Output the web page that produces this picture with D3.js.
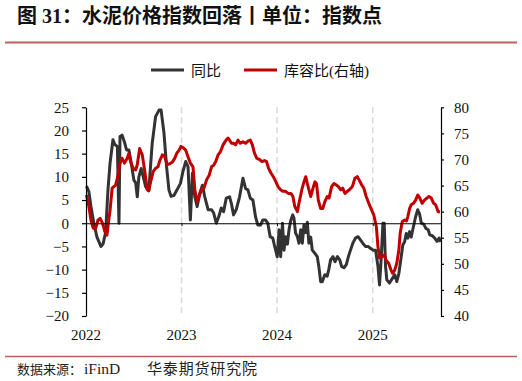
<!DOCTYPE html>
<html>
<head>
<meta charset="utf-8">
<script src="https://cdn.jsdelivr.net/npm/d3@7"></script>
<style>
  body { margin: 0; background: #fff; }
  svg { display: block; }
</style>
</head>
<body>
<svg id="chart" width="522" height="381"></svg>
<script>
// 同比 (left axis)
const yoyDates = ["2022-01-03","2022-01-12","2022-01-20","2022-01-31","2022-02-12","2022-02-27","2022-03-07","2022-03-17","2022-03-26","2022-04-03","2022-04-14","2022-04-21","2022-05-01","2022-05-07","2022-05-11","2022-05-19","2022-05-28","2022-06-05","2022-06-14","2022-06-23","2022-07-03","2022-07-10","2022-07-16","2022-07-22","2022-07-31","2022-08-08","2022-08-17","2022-08-29","2022-09-11","2022-09-24","2022-10-07","2022-10-15","2022-10-26","2022-11-05","2022-11-14","2022-11-22","2022-12-03","2022-12-15","2022-12-28",
  "2023-01-06","2023-01-17","2023-01-26","2023-02-04","2023-02-12","2023-02-21","2023-03-02","2023-03-12","2023-03-22","2023-03-31","2023-04-13","2023-04-26","2023-05-04","2023-05-14","2023-05-24","2023-06-02","2023-06-11","2023-06-21","2023-07-04","2023-07-11","2023-07-19","2023-07-29","2023-08-11","2023-08-24","2023-09-03","2023-09-12","2023-09-21","2023-10-01","2023-10-11","2023-10-20","2023-10-30","2023-11-08","2023-11-18","2023-11-27","2023-12-06","2023-12-16","2023-12-22","2023-12-27",
  "2024-01-02","2024-01-09","2024-01-15","2024-01-22","2024-01-28","2024-02-03","2024-02-10","2024-02-16","2024-02-23","2024-03-01","2024-03-06","2024-03-12","2024-03-19","2024-03-25","2024-04-01","2024-04-07","2024-04-13","2024-04-20","2024-04-26","2024-05-02","2024-05-09","2024-05-15","2024-05-25","2024-06-03","2024-06-09","2024-06-16","2024-06-22","2024-07-02","2024-07-11","2024-07-17","2024-07-24","2024-08-02","2024-08-10","2024-08-19","2024-08-28","2024-09-04","2024-09-13","2024-09-22","2024-09-30","2024-10-08","2024-10-17","2024-10-27","2024-11-06","2024-11-15","2024-11-24","2024-12-04","2024-12-14","2024-12-23",
  "2025-01-02","2025-01-12","2025-01-21","2025-01-27","2025-02-02","2025-02-09","2025-02-14","2025-02-19","2025-02-24","2025-03-06","2025-03-16","2025-03-26","2025-04-03","2025-04-11","2025-04-20","2025-04-26","2025-05-03","2025-05-09","2025-05-15","2025-05-22","2025-05-28","2025-06-03","2025-06-14","2025-06-22","2025-06-29","2025-07-06","2025-07-15","2025-07-23","2025-08-01","2025-08-07","2025-08-17","2025-08-26","2025-09-04","2025-09-12","2025-09-18"];
const yoyValues = [8,6.8,3.6,0,-3,-5,-4.5,-2,7.2,13,18,17,16.5,0,18.7,19,17.5,15.8,15.8,13,9.3,8.7,5.7,10,11.8,10,7.9,7,17.2,23,24.4,24.4,19.5,12.2,7.2,5.8,6,7.2,8.6,
  11,13.3,12.2,0.7,10.8,5.7,3.6,6.5,8.2,5.7,2.9,2.9,2.2,0,1.5,3.3,2.5,5.4,5.7,4.2,1.8,2.9,5.7,9.7,7.5,7.2,5.4,5,1.4,-0.4,-0.4,0.7,0.7,0,-2.9,-3.2,-4.7,-5.8,
  -7.2,-1.4,-7.2,0,-5.8,-2.9,-4.5,-1.4,0.7,1.8,1.1,-2.1,-2.9,-4.3,-1.4,-4.3,-0.4,-2,0.2,-4.3,-3,-5.8,-6.5,-7.2,-9.3,-12.6,-12.6,-11.1,-11.4,-10,-7.9,-7.2,-8.3,-7.2,-7.9,-9.3,-9.6,-8.9,-7.2,-5.8,-4.3,-3.2,-2.9,-3.6,-4.3,-5,-5,-5.4,
  -5.8,-5.8,-9.3,-13.3,-8,0,0,-9.3,-12.2,-12.9,-12,-11.1,-12.6,-10.8,-7.2,-4.7,-4,-2.2,-3.2,-1.8,-3,-1.4,1.4,2.9,2,0,-0.2,-1.1,-1.4,-2.5,-2.7,-3.2,-3.9,-3.2,-4];

// 库容比 (right axis)
const capDates = ["2022-01-03","2022-01-12","2022-01-21","2022-01-29","2022-02-07","2022-02-16","2022-02-24","2022-03-05","2022-03-14","2022-03-22","2022-03-26","2022-04-03","2022-04-11","2022-04-24","2022-05-01","2022-05-11","2022-05-19","2022-05-28","2022-06-07","2022-06-14","2022-06-20","2022-06-30","2022-07-10","2022-07-16","2022-07-25","2022-08-04","2022-08-13","2022-08-23","2022-08-29","2022-09-05","2022-09-15","2022-09-24","2022-10-03","2022-10-11","2022-10-20","2022-10-28","2022-11-08","2022-11-18","2022-11-27","2022-12-06","2022-12-14","2022-12-23","2022-12-30",
  "2023-01-06","2023-01-17","2023-01-26","2023-02-04","2023-02-14","2023-02-21","2023-03-02","2023-03-09","2023-03-19","2023-03-28","2023-04-07","2023-04-17","2023-04-26","2023-05-04","2023-05-12","2023-05-21","2023-05-30","2023-06-09","2023-06-20","2023-06-28","2023-07-04","2023-07-11","2023-07-19","2023-07-27","2023-08-05","2023-08-14","2023-08-24","2023-09-03","2023-09-12","2023-09-21","2023-09-29","2023-10-07","2023-10-16","2023-10-26","2023-11-05","2023-11-14","2023-11-22","2023-11-30","2023-12-09","2023-12-18","2023-12-28",
  "2024-01-05","2024-01-15","2024-01-23","2024-02-03","2024-02-13","2024-02-23","2024-03-02","2024-03-09","2024-03-19","2024-03-25","2024-04-05","2024-04-13","2024-04-20","2024-04-26","2024-05-02","2024-05-09","2024-05-16","2024-05-25","2024-05-31","2024-06-07","2024-06-16","2024-06-24","2024-07-02","2024-07-11","2024-07-18","2024-07-28","2024-08-06","2024-08-15","2024-08-23","2024-08-31","2024-09-08","2024-09-17","2024-09-26","2024-10-04","2024-10-15","2024-10-25","2024-11-03","2024-11-12","2024-11-20","2024-11-28","2024-12-07","2024-12-17","2024-12-28",
  "2025-01-05","2025-01-15","2025-01-21","2025-01-27","2025-02-06","2025-02-15","2025-02-21","2025-03-03","2025-03-12","2025-03-18","2025-03-26","2025-04-03","2025-04-11","2025-04-16","2025-04-24","2025-05-03","2025-05-10","2025-05-15","2025-05-22","2025-05-28","2025-06-06","2025-06-14","2025-06-22","2025-06-30","2025-07-09","2025-07-18","2025-07-27","2025-08-04","2025-08-13","2025-08-22","2025-08-30","2025-09-08","2025-09-15"];
const capValues = [63.2,61,58.1,56.8,56.8,58.4,58.7,57.8,56.2,55.5,57.2,60.3,64.5,65.1,66.4,69.3,70.2,69.3,70.2,71.2,69.6,68.3,68,69,72.1,70.9,68,64.2,64,65.7,67.7,68.3,68.6,69.9,70.9,70.6,69,69.2,69.5,70.2,71.2,71.8,72.5,
  72.3,71.8,70.5,69.3,68.6,64.2,61.9,62.9,64.2,64.5,66.1,67,68.6,68.9,69.6,70.9,71.5,72.8,73.7,74.1,73.7,73.1,73.1,72.8,73.7,73.1,73.4,73.1,73.5,73.7,72.8,71.2,70.2,70,69.6,69.8,69.6,68.3,67.4,66.7,65.7,
  64.8,64.2,63.9,63.9,63.5,63.5,62.9,61,60,61.6,64.2,65.7,66.7,65.4,64.2,62.9,64.2,65.7,65.4,62.2,60.6,60.6,61.9,62.9,62.6,64.8,65.4,65.1,64.8,64.2,64.5,63.5,63.9,64.2,64.8,66.4,66.7,65.9,65.1,64.5,62.9,61.6,60.3,
  59.4,57.1,53.3,51.1,51.4,51.7,50.7,50.1,48.8,48.2,48.8,50.1,52.7,55.9,58.1,58.4,58.2,59,60.6,61.3,61.6,62.2,63.2,62.6,61.6,62.2,62.6,62.9,62.6,61.6,61.3,60,60];

const leftTicks = [25, 20, 15, 10, 5, 0, -5, -10, -15, -20];
const rightTicks = [80, 75, 70, 65, 60, 55, 50, 45, 40];
const yearTicks = ["2022-01-01", "2023-01-01", "2024-01-01", "2025-01-01"];

const SERIF = "'Liberation Serif', 'Times New Roman', serif";
const MIXED = "'Liberation Serif', 'Noto Sans CJK SC', sans-serif";

const parse = d3.timeParse("%Y-%m-%d");
const yoy = yoyDates.map((d, i) => ({ date: parse(d), value: yoyValues[i] }));
const cap = capDates.map((d, i) => ({ date: parse(d), value: capValues[i] }));
const years = yearTicks.map(parse);

const svg = d3.select("#chart");
const plotLeft = 86, plotRight = 441, plotTop = 107.3, plotBottom = 316;

const x = d3.scaleTime().domain([parse("2022-01-01"), parse("2025-09-19")]).range([plotLeft, plotRight]);
const yL = d3.scaleLinear().domain([-20, 25]).range([plotBottom, plotTop]);
const yR = d3.scaleLinear().domain([40, 80]).range([plotBottom, plotTop]);

// title + rules
svg.append("text").attr("font-family", MIXED)
  .attr("x", 17).attr("y", 23)
  .attr("font-size", 20).attr("font-weight", "bold").attr("fill", "#111")
  .text("图 31：水泥价格指数回落丨单位：指数点");
svg.append("line").attr("x1", 5).attr("x2", 517).attr("y1", 42.5).attr("y2", 42.5)
  .attr("stroke", "#c0605e").attr("stroke-width", 2);
svg.append("line").attr("x1", 5).attr("x2", 517).attr("y1", 356.5).attr("y2", 356.5)
  .attr("stroke", "#c0605e").attr("stroke-width", 1.5);

// source line
const footer = svg.append("g").attr("font-family", MIXED).attr("fill", "#222");
footer.append("text").attr("x", 17).attr("y", 374).attr("font-size", 13).text("数据来源：");
footer.append("text").attr("x", 84).attr("y", 374).attr("font-size", 15.5).text("iFinD");
footer.append("text").attr("x", 147).attr("y", 374).attr("font-size", 15).attr("textLength", 110).text("华泰期货研究院");

// legend
const legend = [
  { label: "同比", color: "#333333", x: 151 },
  { label: "库容比(右轴)", color: "#c00000", x: 244 }
];
legend.forEach(l => {
  svg.append("line").attr("x1", l.x).attr("x2", l.x + 33).attr("y1", 70).attr("y2", 70)
    .attr("stroke", l.color).attr("stroke-width", 3);
  svg.append("text").attr("font-family", MIXED).attr("x", l.x + 40).attr("y", 75.5)
    .attr("font-size", 15).attr("fill", "#111").text(l.label);
});

// year grid lines
svg.append("g").selectAll("line").data(years.slice(1)).join("line")
  .attr("x1", d => x(d)).attr("x2", d => x(d))
  .attr("y1", plotTop).attr("y2", plotBottom)
  .attr("stroke", "#d9d9d9").attr("stroke-width", 1.5).attr("stroke-dasharray", "6,4");

// series
const lineL = d3.line().x(d => x(d.date)).y(d => yL(d.value));
const lineR = d3.line().x(d => x(d.date)).y(d => yR(d.value));
svg.append("path").datum(yoy).attr("d", lineL)
  .attr("fill", "none").attr("stroke", "#333333").attr("stroke-width", 3).attr("stroke-linejoin", "round");
svg.append("path").datum(cap).attr("d", lineR)
  .attr("fill", "none").attr("stroke", "#c00000").attr("stroke-width", 3).attr("stroke-linejoin", "round");

// zero line with year ticks
const xAxis = svg.append("g").attr("transform", `translate(0,${yL(0)})`)
  .call(d3.axisBottom(x).tickValues(years).tickSize(3).tickSizeOuter(0).tickFormat(""));
xAxis.select(".domain").attr("stroke", "#000").attr("stroke-width", 1.2);

// year labels at bottom
svg.append("g").selectAll("text").data(years).join("text")
  .attr("font-family", SERIF)
  .attr("x", d => x(d)).attr("y", 340).attr("text-anchor", "middle")
  .attr("font-size", 15).attr("fill", "#111")
  .text(d => d.getFullYear());

// left axis
const axL = svg.append("g").attr("transform", `translate(${plotLeft},0)`)
  .call(d3.axisLeft(yL).tickValues(leftTicks).tickSize(4).tickSizeOuter(0).tickPadding(13))
  .attr("font-family", SERIF).attr("font-size", 15);
axL.select(".domain").attr("stroke", "#000").attr("stroke-width", 1.2);
axL.selectAll("line").attr("stroke", "#000").attr("stroke-width", 1.2);
axL.selectAll("text").attr("fill", "#111");

// right axis
const axR = svg.append("g").attr("transform", `translate(${plotRight},0)`)
  .call(d3.axisRight(yR).tickValues(rightTicks).tickSize(3).tickSizeOuter(0).tickPadding(10))
  .attr("font-family", SERIF).attr("font-size", 15);
axR.select(".domain").attr("stroke", "#000").attr("stroke-width", 1.2);
axR.selectAll("line").attr("stroke", "#000").attr("stroke-width", 1.2);
axR.selectAll("text").attr("fill", "#111");
</script>
</body>
</html>
